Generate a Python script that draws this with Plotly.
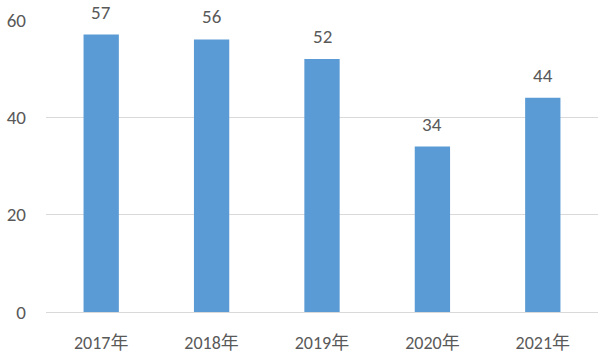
import plotly.graph_objects as go

# Yearly values shown as columns
years = ["2017年", "2018年", "2019年", "2020年", "2021年"]
values = [57, 56, 52, 34, 44]
y_ticks = [0, 20, 40, 60]

font_family = "Carlito, Calibri, 'Noto Sans CJK SC', sans-serif"
text_color = "#595959"

fig = go.Figure(
    go.Bar(
        x=years,
        y=values,
        marker=dict(color="#5B9BD5", line=dict(width=0)),
        width=0.32,
        hoverinfo="x+y",
    )
)

# Value labels above each column
for yr, v in zip(years, values):
    fig.add_annotation(
        x=yr,
        y=v,
        text=str(v),
        showarrow=False,
        yanchor="bottom",
        yshift=9,
        font=dict(size=19, color=text_color, family=font_family),
    )

fig.update_layout(
    width=601,
    height=358,
    margin=dict(l=46, r=3, t=20, b=46),
    paper_bgcolor="white",
    plot_bgcolor="white",
    showlegend=False,
    font=dict(family=font_family, size=18, color=text_color),
)

fig.update_xaxes(
    showgrid=False,
    showline=False,
    ticks="",
    ticklabelstandoff=18,
    tickfont=dict(size=18, color=text_color),
)
fig.update_yaxes(
    range=[0, 60],
    tickvals=y_ticks,
    showgrid=True,
    gridcolor="#D9D9D9",
    gridwidth=1,
    zeroline=True,
    zerolinecolor="#D9D9D9",
    zerolinewidth=1,
    showline=False,
    ticks="",
    ticklabelstandoff=19,
    tickfont=dict(size=19, color=text_color),
)

fig.write_html("out.html")
